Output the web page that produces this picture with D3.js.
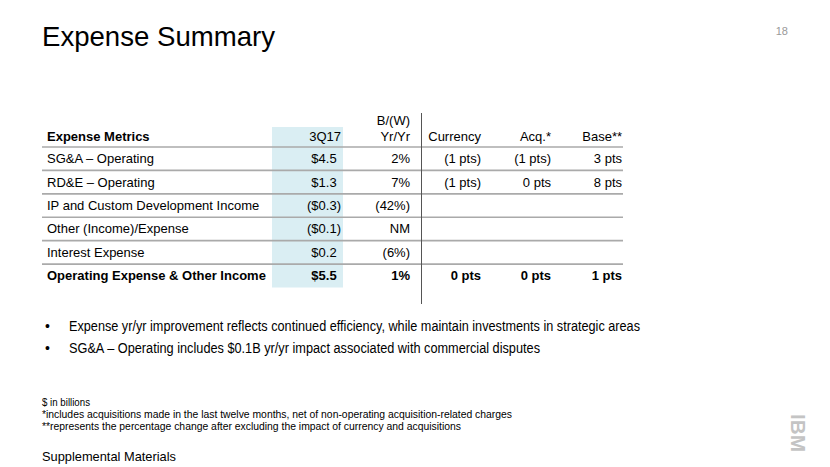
<!DOCTYPE html>
<html>
<head>
<meta charset="utf-8">
<script src="https://cdn.jsdelivr.net/npm/d3@7"></script>
<style>
  html, body { margin: 0; padding: 0; background: #fff; }
  svg { display: block; font-family: "Liberation Sans", Arial, sans-serif; }
</style>
</head>
<body>
<svg id="chart" width="830" height="467"></svg>
<script>
// ---- data ----
const title = "Expense Summary";
const pageNumber = "18";
const columnHeaders = ["Expense Metrics", "3Q17", "Yr/Yr", "Currency", "Acq.*", "Base**"];
const columnSuperHeaders = ["", "", "B/(W)", "", "", ""];
const metrics = [
  "SG&A \u2013 Operating",
  "RD&E \u2013 Operating",
  "IP and Custom Development Income",
  "Other (Income)/Expense",
  "Interest Expense",
  "Operating Expense & Other Income"
];
const q3_17 = ["$4.5", "$1.3", "($0.3)", "($0.1)", "$0.2", "$5.5"];
const yrYr = ["2%", "7%", "(42%)", "NM", "(6%)", "1%"];
const currency = ["(1 pts)", "(1 pts)", "", "", "", "0 pts"];
const acq = ["(1 pts)", "0 pts", "", "", "", "0 pts"];
const base = ["3 pts", "8 pts", "", "", "", "1 pts"];
const boldRows = [false, false, false, false, false, true];
const bullets = [
  "Expense yr/yr improvement reflects continued efficiency, while maintain investments in strategic areas",
  "SG&A \u2013 Operating includes $0.1B yr/yr impact associated with commercial disputes"
];
const footnotes = [
  "$ in billions",
  "*includes acquisitions made in the last twelve months, net of non-operating acquisition-related charges",
  "**represents the percentage change after excluding the impact of currency and acquisitions"
];
const footer = "Supplemental Materials";

// ---- drawing ----
const svg = d3.select("#chart");

// Title & page number
svg.append("text").attr("x", 42).attr("y", 46)
  .attr("font-size", 28).attr("fill", "#000")
  .attr("textLength", 233).attr("lengthAdjust", "spacingAndGlyphs")
  .text(title);
svg.append("text").attr("x", 788).attr("y", 35).attr("text-anchor", "end")
  .attr("font-size", 11).attr("fill", "#999")
  .text(pageNumber);

// Table scales
const rowIdx = d3.range(metrics.length);
const y = d3.scaleBand().domain(rowIdx).range([147, 287.5]);
const tableLeft = 42, tableRight = 623;
const colRight = [null, 341, 410, 481, 551, 622];
const colLeftText = 47;

// shaded column
svg.append("rect")
  .attr("x", 272).attr("y", 127)
  .attr("width", 71).attr("height", y.range()[1] - 127)
  .attr("fill", "#daeef3");

// row lines
svg.append("g").selectAll("line")
  .data(rowIdx)
  .join("line")
  .attr("x1", tableLeft).attr("x2", tableRight)
  .attr("y1", d => y(d)).attr("y2", d => y(d))
  .attr("stroke", "#aaaaaa").attr("stroke-width", 1.6);

// vertical separator
svg.append("line")
  .attr("x1", 421.5).attr("x2", 421.5)
  .attr("y1", 113).attr("y2", 304)
  .attr("stroke", "#555").attr("stroke-width", 1);

// headers
const hdr = svg.append("g").attr("font-size", 13).attr("fill", "#000");
hdr.append("text").attr("x", colLeftText).attr("y", 141)
  .attr("font-weight", "bold").text(columnHeaders[0]);
columnHeaders.slice(1).forEach((h, i) => {
  hdr.append("text").attr("x", colRight[i + 1]).attr("y", 141)
    .attr("text-anchor", "end").text(h);
});
columnSuperHeaders.forEach((h, i) => {
  if (h) hdr.append("text").attr("x", colRight[i]).attr("y", 125)
    .attr("text-anchor", "end").text(h);
});

// measure ")" width for accounting alignment
const probe = svg.append("text").attr("font-size", 13).text(")");
const parenW = probe.node().getComputedTextLength();
probe.remove();

const body = svg.append("g").attr("font-size", 13).attr("fill", "#000");
const columns = [q3_17, yrYr, currency, acq, base];
rowIdx.forEach(i => {
  const by = y(i) + y.bandwidth() / 2 + 4.5;
  const fw = boldRows[i] ? "bold" : "normal";
  body.append("text").attr("x", colLeftText).attr("y", by)
    .attr("font-weight", fw).text(metrics[i]);
  columns.forEach((col, c) => {
    const v = col[i];
    if (!v) return;
    let x = colRight[c + 1];
    if (c === 0 && !v.endsWith(")")) x -= parenW;
    body.append("text").attr("x", x).attr("y", by)
      .attr("text-anchor", "end").attr("font-weight", fw).text(v);
  });
});

// bullets
const bulletWidths = [571, 471];
const bg = svg.append("g").attr("font-size", 14).attr("fill", "#000");
bullets.forEach((b, i) => {
  const by = 331 + i * 22;
  bg.append("text").attr("x", 45).attr("y", by).text("\u2022");
  bg.append("text").attr("x", 69).attr("y", by)
    .attr("textLength", bulletWidths[i]).attr("lengthAdjust", "spacingAndGlyphs")
    .text(b);
});

// footnotes
const fnWidths = [48, 470, 419];
const fg = svg.append("g").attr("font-size", 10).attr("fill", "#000");
footnotes.forEach((f, i) => {
  fg.append("text").attr("x", 42).attr("y", 406 + i * 12)
    .attr("textLength", fnWidths[i]).attr("lengthAdjust", "spacingAndGlyphs")
    .text(f);
});

svg.append("text").attr("x", 42).attr("y", 461)
  .attr("font-size", 13).attr("fill", "#000")
  .attr("textLength", 134).attr("lengthAdjust", "spacingAndGlyphs")
  .text(footer);

// IBM logo (rotated)
const logo = svg.append("g").attr("transform", "translate(791,414) rotate(90)");
logo.append("text").attr("x", 0).attr("y", 0)
  .attr("font-size", 20).attr("font-weight", "bold").attr("fill", "#c4c4c4")
  .attr("textLength", 38).attr("lengthAdjust", "spacingAndGlyphs")
  .text("IBM");
</script>
</body>
</html>
